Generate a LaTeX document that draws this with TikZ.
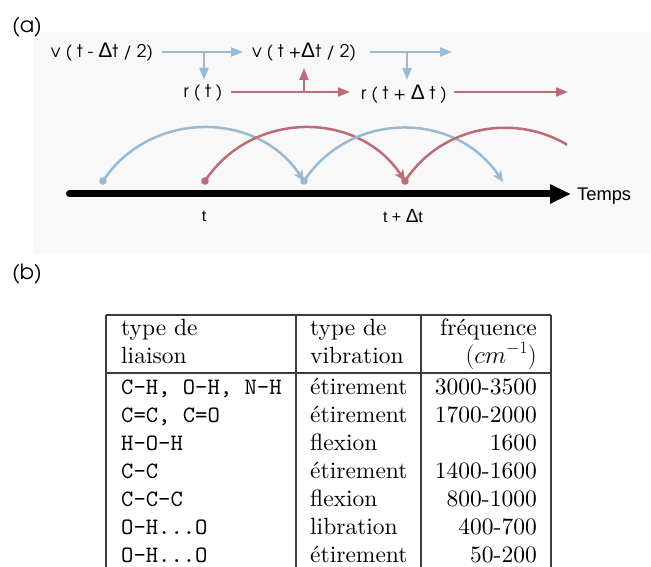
\documentclass[tikz,border=0pt]{standalone}
\usepackage{fontspec}
\setmainfont{lmroman10-regular.otf}
\newfontfamily\lmtt{lmmono10-regular.otf}
\newfontfamily\gothic{TeX Gyre Adventor}
\newfontfamily\helv{Liberation Sans}
\usetikzlibrary{arrows.meta}
\definecolor{vblue}{RGB}{155,186,210}
\definecolor{rred}{RGB}{188,108,118}
\definecolor{panel}{RGB}{248,248,248}
\definecolor{tline}{RGB}{60,60,60}
\tikzset{
  lab/.style={inner sep=0pt, font=\gothic\fontsize{17.5}{17.5}\selectfont},
  plab/.style={inner sep=0pt, font=\gothic\fontsize{21}{21}\selectfont},
  hlab/.style={inner sep=0pt, font=\helv\fontsize{16}{16}\selectfont},
  varr/.style={draw=vblue, line width=2pt, -{Triangle[length=12pt,width=9pt]}},
  rarr/.style={draw=rred, line width=2pt, -{Triangle[length=12pt,width=9pt]}},
  barc/.style={draw=vblue, line width=2.5pt, -{Stealth[length=11pt,width=10pt,inset=3pt]}},
  rarc/.style={draw=rred, line width=2.5pt, -{Stealth[length=11pt,width=10pt,inset=3pt]}},
  axisline/.style={draw=black, line width=7pt, -{Triangle[length=21pt,width=18pt]}},
  cell/.style={inner sep=0pt, anchor=base west, font=\fontsize{23.5}{28}\selectfont},
  tcell/.style={inner sep=0pt, anchor=base west, font=\lmtt\fontsize{23.5}{28}\selectfont},
  rcell/.style={inner sep=0pt, anchor=base east, font=\fontsize{23.5}{28}\selectfont},
  rule/.style={draw=tline, line width=1.2pt}
}
\newcommand{\dlt}{{\helv\fontsize{21}{21}\selectfont Δ}}
\begin{document}
\begin{tikzpicture}[x=1pt,y=-1pt]
\useasboundingbox[fill=white] (0,0) rectangle (651,567);
% panel (a)
\fill[panel] (33,32) rectangle (651,253);
\node[plab] (pa) at (27,27) {(a)};
\node[plab] (pb) at (27,274) {(b)};
% top labels
\node[lab] (v1) at (102,52) {v ( t - \dlt t / 2)};
\node[lab] (v2) at (304,52) {v ( t +\dlt t / 2)};
\node[lab] (ra) at (203,93) {r ( t )};
\node[lab] (rb) at (404,94) {r ( t + \dlt\ t )};
\coordinate (v3) at (452,52);
\coordinate (r3) at (568,92);
\coordinate (j1) at (204,52);
\coordinate (j1e) at (204,80);
\coordinate (j2) at (304,92);
\coordinate (j2e) at (304,68);
\coordinate (j3) at (407,52);
\coordinate (j3e) at (407,80);
\draw[varr] (162,52) -- (243,52);
\draw[varr] (370,52) -- (v3);
\draw[varr] (j1) -- (j1e);
\draw[varr] (j3) -- (j3e);
\draw[rarr] (231,92) -- (350,92);
\draw[rarr] (454,92) -- (r3);
\draw[rarr] (j2) -- (j2e);
% arcs
\coordinate (b0) at (103,181);
\coordinate (b1) at (304,181);
\coordinate (b2) at (503,182);
\coordinate (q0) at (205,181);
\coordinate (q1) at (405,181);
\draw[barc] (b0) .. controls +(47,-71) and +(-47,-71) .. (b1);
\draw[rarc] (q0) .. controls +(47,-71) and +(-47,-71) .. (q1);
\draw[barc] (b1) .. controls +(47,-71) and +(-47,-71) .. (b2);
\begin{scope}
\clip (395,100) rectangle (567,200);
\draw[draw=rred, line width=2.5pt] (q1) .. controls +(47,-71) and +(-47,-71) .. (605,181);
\end{scope}
\fill[vblue] (b0) circle (3.8pt);
\fill[vblue] (b1) circle (3.8pt);
\fill[rred] (q0) circle (3.8pt);
\fill[rred] (q1) circle (3.8pt);
% time axis
\coordinate (ax0) at (69.5,194);
\coordinate (ax1) at (571,194);
\draw[line width=7pt, line cap=round] (ax0) -- (80,194);
\draw[axisline] (ax0) -- (ax1);
\node[inner sep=0pt, anchor=west, font=\helv\fontsize{18.3}{18.3}\selectfont] (temps) at (577,196) {Temps};
\node[hlab] (t0) at (204,216) {t};
\node[hlab] (t1) at (403,216) {t + {\helv\fontsize{19}{19}\selectfont Δ}t};
% table (b)
\draw[rule] (106,315) -- (551,315);
\draw[rule] (106,373) -- (551,373);
\draw[rule] (106,315) -- (106,567);
\draw[rule] (296,315) -- (296,567);
\draw[rule] (421,315) -- (421,567);
\draw[rule] (551,315) -- (551,567);
\node[cell] (h11) at (121,335) {type de};
\node[cell] (h12) at (121,363) {liaison};
\node[cell] (h21) at (310,335) {type de};
\node[cell] (h22) at (310,363) {vibration};
\node[rcell] (h31) at (537,335) {fréquence};
\node[rcell] (h32) at (537,363) {$(cm^{-1})$};
\node[tcell] (a1) at (121,394) {C-H, O-H, N-H};
\node[tcell] (a2) at (121,422) {C=C, C=O};
\node[tcell] (a3) at (121,450) {H-O-H};
\node[tcell] (a4) at (121,478) {C-C};
\node[tcell] (a5) at (121,506) {C-C-C};
\node[tcell] (a6) at (121,534) {O-H...O};
\node[tcell] (a7) at (121,562) {O-H...O};
\node[cell] (b1t) at (310,394) {étirement};
\node[cell] (b2t) at (310,422) {étirement};
\node[cell] (b3t) at (310,450) {flexion};
\node[cell] (b4t) at (310,478) {étirement};
\node[cell] (b5t) at (310,506) {flexion};
\node[cell] (b6t) at (310,534) {libration};
\node[cell] (b7t) at (310,562) {étirement};
\node[rcell] (c1) at (537,394) {3000-3500};
\node[rcell] (c2) at (537,422) {1700-2000};
\node[rcell] (c3) at (537,450) {1600};
\node[rcell] (c4) at (537,478) {1400-1600};
\node[rcell] (c5) at (537,506) {800-1000};
\node[rcell] (c6) at (537,534) {400-700};
\node[rcell] (c7) at (537,562) {50-200};
\end{tikzpicture}
\end{document}
